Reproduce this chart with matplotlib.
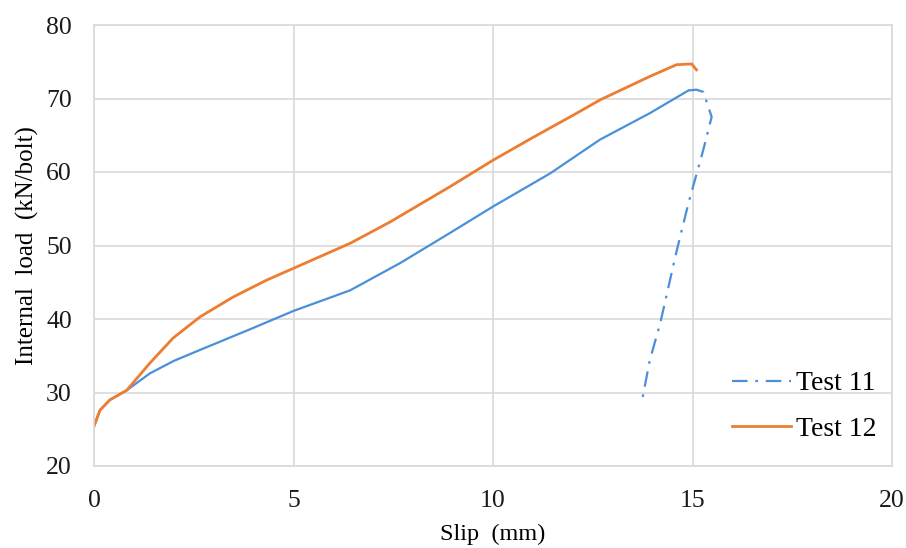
import numpy as np
import matplotlib
matplotlib.use('Agg')
import matplotlib.pyplot as plt

# Test 11 - loading branch (drawn solid, dense points in original)
t11_slip = [0, 0.15, 0.4, 0.82, 1.4, 2.0, 2.66, 3.91, 5.0, 6.42, 7.67, 8.92, 10.0, 11.43, 12.68, 13.93, 14.9]
t11_load = [25.4, 27.6, 29.0, 30.3, 32.6, 34.3, 35.8, 38.6, 41.1, 43.9, 47.6, 51.7, 55.3, 59.8, 64.4, 68.0, 71.1]
# Test 11 - post-peak branch (dash-dot)
t11_post_slip = [14.9, 15.1, 15.27, 15.48, 15.27, 15.06, 14.9, 14.6, 14.52, 14.19, 13.93, 13.73]
t11_post_load = [71.1, 71.2, 70.9, 67.5, 63.0, 58.9, 55.8, 49.2, 47.3, 39.4, 34.4, 28.75]

# Test 12
t12_slip = [0, 0.15, 0.4, 0.82, 1.4, 1.98, 2.66, 3.49, 4.33, 5.0, 6.42, 7.42, 8.92, 10.0, 11.0, 12.0, 12.68, 13.93, 14.6, 14.98, 15.1]
t12_load = [25.4, 27.6, 29.0, 30.3, 34.0, 37.4, 40.3, 43.0, 45.3, 46.9, 50.3, 53.2, 58.0, 61.6, 64.7, 67.7, 69.8, 73.0, 74.6, 74.7, 73.9]

blue = '#4a90d9'
orange = '#ed7d31'
grid_c = '#d9d9d9'

plt.rcParams['font.family'] = ['Liberation Serif', 'DejaVu Serif']

fig = plt.figure(figsize=(9.06, 5.48), dpi=100)
ax = fig.add_axes([94/906, 1-466/548, (892-94)/906, (466-25)/548])

ax.plot(t11_slip, t11_load, color=blue, lw=1.6, solid_capstyle='round')
l11, = ax.plot(t11_post_slip, t11_post_load, color=blue, lw=1.6,
               dashes=(7, 3.5, 1.2, 3.5), label='Test 11')
l12, = ax.plot(t12_slip, t12_load, color=orange, lw=2.0, label='Test 12')

ax.set_xlim(0, 20)
ax.set_ylim(20, 80)
ax.set_xticks([0, 5, 10, 15, 20])
ax.set_yticks([20, 30, 40, 50, 60, 70, 80])
ax.grid(True, color=grid_c, lw=1.2)
ax.set_axisbelow(True)
for s in ax.spines.values():
    s.set_color(grid_c)
    s.set_linewidth(1.2)
ax.tick_params(length=0, labelsize=18.5, colors='#1a1a1a')
ax.tick_params(axis='y', pad=16)
ax.tick_params(axis='x', pad=17)

ax.set_xlabel('Slip  (mm)', fontsize=17.5, labelpad=9)
ax.set_ylabel('Internal  load  (kN/bolt)', fontsize=18, labelpad=5)

ax.legend(handles=[l11, l12], loc='lower right', bbox_to_anchor=(0.981, 0.054),
          frameon=False, fontsize=20, handlelength=2.15, labelspacing=0.73,
          handletextpad=0.18, borderpad=0, borderaxespad=0)

plt.savefig('out.png', dpi=100)
